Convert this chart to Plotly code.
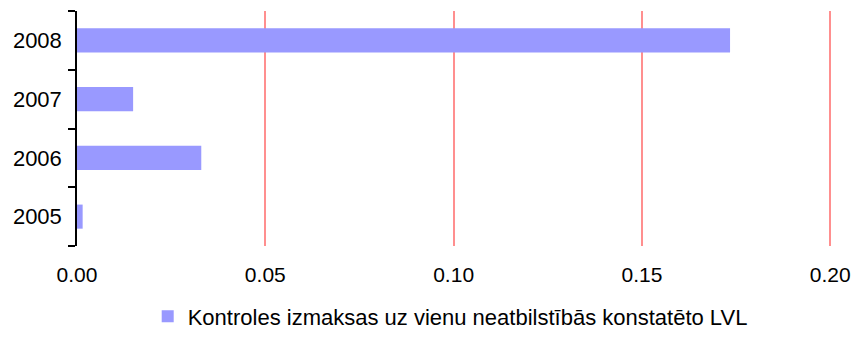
import plotly.graph_objects as go

years = ["2005", "2006", "2007", "2008"]
values = [0.0015, 0.033, 0.0149, 0.1734]
series_name = "Kontroles izmaksas uz vienu neatbilstībās konstatēto LVL"
x_ticks = [0.0, 0.05, 0.10, 0.15, 0.20]
x_tick_labels = ["0.00", "0.05", "0.10", "0.15", "0.20"]

fig = go.Figure()
fig.add_trace(go.Bar(
    y=years, x=values, orientation="h", name=series_name,
    marker=dict(color="#9999FF", line=dict(width=0)),
    showlegend=True,
))

font = "Liberation Sans, Arial, sans-serif"
fig.update_layout(
    width=854, height=351,
    margin=dict(l=77, r=20, t=11, b=105, autoexpand=False),
    paper_bgcolor="white", plot_bgcolor="white",
    bargap=0.59,
    font=dict(family=font, size=21, color="black"),
    showlegend=True,
    legend=dict(orientation="h", x=0.493, xanchor="center", y=-0.3, yanchor="middle",
                font=dict(size=22), itemwidth=30),
    xaxis=dict(range=[0, 0.201], tickvals=x_ticks, ticktext=x_tick_labels,
               showgrid=True, gridcolor="#FF8F8F", gridwidth=1.6,
               zeroline=False, showline=False, ticks="", ticklabelstandoff=14,
               tickfont=dict(size=21), automargin=False),
    yaxis=dict(type="category", categoryorder="array", categoryarray=years,
               showline=True, linecolor="black", linewidth=1.5,
               ticks="outside", ticklen=7, tickwidth=1.5, tickcolor="black",
               tickson="boundaries", showgrid=False, ticklabelstandoff=9,
               tickfont=dict(size=22), automargin=False),
)
fig.write_html(
    "out.html",
    config={"displayModeBar": False},
    post_script="document.body.style.margin='0';document.body.style.overflow='hidden';",
)
